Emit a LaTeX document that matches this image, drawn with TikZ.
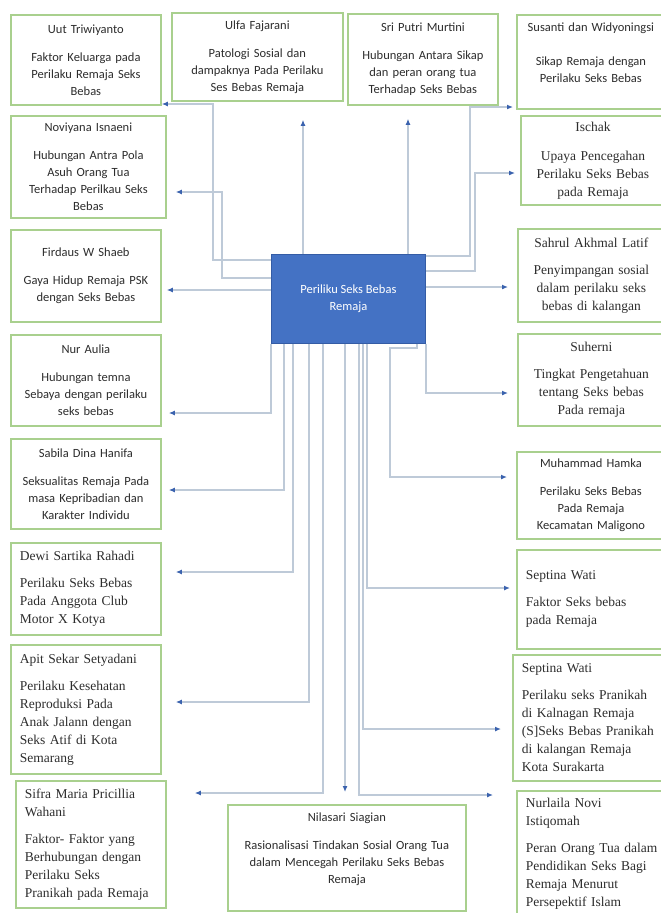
\documentclass[tikz,border=0pt]{standalone}
\usepackage{fontspec}
\newfontfamily\calfont{Carlito}
\newfontfamily\timesfont{Liberation Serif}
\definecolor{BoxGreen}  {RGB}{169,208,142}
\definecolor{CoreBlue}  {RGB}{68,114,196}
\definecolor{CoreEdge}  {RGB}{52,92,165}
\definecolor{LinkGrey}  {RGB}{190,202,216}
\definecolor{ArrowBlue} {RGB}{58,98,174}
\definecolor{TextGrey}  {RGB}{45,45,45}
\usetikzlibrary{arrows.meta,positioning,calc}

\begin{document}
\begin{tikzpicture}[x=1pt,y=-1pt,
  refbox/.style={draw=BoxGreen,line width=1.8pt,fill=white,inner xsep=5pt,
                 anchor=north west,text=TextGrey},
  refsans/.style={refbox,align=center,font=\calfont\fontsize{12.5}{17}\selectfont},
  refserif/.style={refbox,align=center,font=\timesfont\fontsize{13.5}{18}\selectfont},
  refserifl/.style={refserif,align=left,inner xsep=9pt},
  core/.style={draw=CoreEdge,fill=CoreBlue,line width=0.8pt,anchor=north west,
               minimum width=154pt,minimum height=89pt,text=white,align=center,
               font=\calfont\fontsize{12.5}{17}\selectfont},
  link/.style={draw=LinkGrey,line width=1.5pt,
               -{Latex[length=6pt,width=5pt,color=ArrowBlue]}}]
  \useasboundingbox[fill=white] (0,0) rectangle (661,913);
  % central topic
  \node[core](core) at (271,254) {Periliku Seks Bebas\\Remaja};
  % left column
  \node[refsans,text width=140pt,minimum height=90pt](uut) at (10,14)
       {Uut Triwiyanto\\[11pt]Faktor Keluarga pada\\Perilaku Remaja Seks\\Bebas};
  \node[refsans,text width=145pt,minimum height=102pt](nov) at (10,115)
       {Noviyana Isnaeni\\[11pt]Hubungan Antra Pola\\Asuh Orang Tua\\Terhadap Perilkau Seks\\Bebas};
  \node[refsans,text width=140pt,minimum height=92pt](fird) at (10,229)
       {Firdaus W Shaeb\\[11pt]Gaya Hidup Remaja PSK\\dengan Seks Bebas};
  \node[refsans,text width=140pt,minimum height=91pt](nur) at (10,334)
       {Nur Aulia\\[11pt]Hubungan temna\\Sebaya dengan perilaku\\seks bebas};
  \node[refsans,text width=140pt,minimum height=90pt](sab) at (10,438)
       {Sabila Dina Hanifa\\[11pt]Seksualitas Remaja Pada\\masa Kepribadian dan\\Karakter Individu};
  \node[refserifl,text width=132pt,minimum height=92pt](dewi) at (10,542)
       {Dewi Sartika Rahadi\\[9pt]Perilaku Seks Bebas\\Pada Anggota Club\\Motor X Kotya};
  \node[refserifl,text width=132pt,minimum height=129pt](apit) at (10,644)
       {Apit Sekar Setyadani\\[9pt]Perilaku Kesehatan\\Reproduksi Pada\\Anak Jalann dengan\\Seks Atif di Kota\\Semarang};
  \node[refserifl,text width=132pt,minimum height=127pt](sifra) at (15,780)
       {Sifra Maria Pricillia\\Wahani\\[9pt]Faktor- Faktor yang\\Berhubungan dengan\\Perilaku Seks\\Pranikah pada Remaja};
  % top row
  \node[refsans,text width=161pt,minimum height=88pt](ulfa) at (171,12)
       {Ulfa Fajarani\\[11pt]Patologi Sosial dan\\dampaknya Pada Perilaku\\Ses Bebas Remaja};
  \node[refsans,text width=140pt,minimum height=91pt](sri) at (347,13)
       {Sri Putri Murtini\\[11pt]Hubungan Antara Sikap\\dan peran orang tua\\Terhadap Seks Bebas};
  % right column
  \node[refsans,text width=138pt,minimum height=94pt,text depth=70pt](sus) at (516,14)
       {Susanti dan Widyoningsi\\[17pt]Sikap Remaja dengan\\Perilaku Seks Bebas};
  \node[refserif,text width=134pt,minimum height=89pt](isch) at (520,115)
       {Ischak\\[11pt]Upaya Pencegahan\\Perilaku Seks Bebas\\pada Remaja};
  \node[refserif,text width=137pt,minimum height=93pt](sahr) at (517,228)
       {Sahrul Akhmal Latif\\[9pt]Penyimpangan sosial\\dalam perilaku seks\\bebas di kalangan};
  \node[refserif,text width=137pt,minimum height=92pt](suh) at (517,333)
       {Suherni\\[9pt]Tingkat Pengetahuan\\tentang Seks bebas\\Pada remaja};
  \node[refsans,text width=138pt,minimum height=87pt](ham) at (516,451)
       {Muhammad Hamka\\[11pt]Perilaku Seks Bebas\\Pada Remaja\\Kecamatan Maligono};
  \node[refserifl,text width=136pt,minimum height=99pt](sepa) at (516,549)
       {Septina Wati\\[9pt]Faktor Seks bebas\\pada Remaja};
  \node[refserifl,text width=140pt,minimum height=126pt](sepb) at (512,654)
       {Septina Wati\\[9pt]Perilaku seks Pranikah\\di Kalnagan Remaja\\(S]Seks Bebas Pranikah\\di kalangan Remaja\\Kota Surakarta};
  \node[refserifl,text width=136pt,minimum height=126pt](nurl) at (516,790)
       {Nurlaila Novi\\Istiqomah\\[9pt]Peran Orang Tua dalam\\Pendidikan Seks Bagi\\Remaja Menurut\\Persepektif Islam};
  % bottom
  \node[refsans,text width=228pt,minimum height=106pt,text depth=81pt](nila) at (227,804)
       {Nilasari Siagian\\[11pt]Rasionalisasi Tindakan Sosial Orang Tua\\dalam Mencegah Perilaku Seks Bebas\\Remaja};
  % connectors
  \draw[link](core.west |- 0,260) -| (213,104) -- (uut.east |- 0,104);
  \draw[link,shorten >=9pt](core.west |- 0,278) -| (222,192) -- (nov.east |- 0,192);
  \draw[link,shorten >=5pt](core.west |- 0,290) -- (fird.east |- 0,290);
  \draw[link,shorten >=7pt](core.south west) |- (nur.east |- 0,413);
  \draw[link,shorten >=7pt](core.south -| 284,0) |- (sab.east |- 0,490);
  \draw[link,shorten >=14pt](core.south -| 293,0) |- (dewi.east |- 0,572);
  \draw[link,shorten >=14pt](core.south -| 309,0) |- (apit.east |- 0,702);
  \draw[link,shorten >=28pt](core.south -| 323,0) |- (sifra.east |- 0,793);
  \draw[link,shorten >=18pt](core.north -| 303,0) -- (ulfa.south -| 303,0);
  \draw[link,shorten >=13pt](core.north -| 408,0) -- (sri.south -| 408,0);
  \draw[link,shorten >=3pt](core.east |- 0,256) -| (470,107) -- (sus.west |- 0,107);
  \draw[link,shorten >=5pt](core.east |- 0,271) -| (475,173) -- (isch.west |- 0,173);
  \draw[link,shorten >=9pt](core.east |- 0,287) -- (sahr.west |- 0,287);
  \draw[link,shorten >=9pt](core.south east) |- (suh.west |- 0,393);
  \draw[link,shorten >=9pt](core.south -| 417,0) -- (417,348) -| (390,477)
       -- (ham.west |- 0,477);
  \draw[link,shorten >=6pt](core.south -| 367,0) |- (sepa.west |- 0,588);
  \draw[link,shorten >=11pt](core.south -| 363,0) |- (sepb.west |- 0,729);
  \draw[link,shorten >=23pt](core.south -| 359,0) |- (nurl.west |- 0,795);
  \draw[link,shorten >=12pt](core.south -| 345,0) -- (nila.north -| 345,0);
\end{tikzpicture}
\end{document}
